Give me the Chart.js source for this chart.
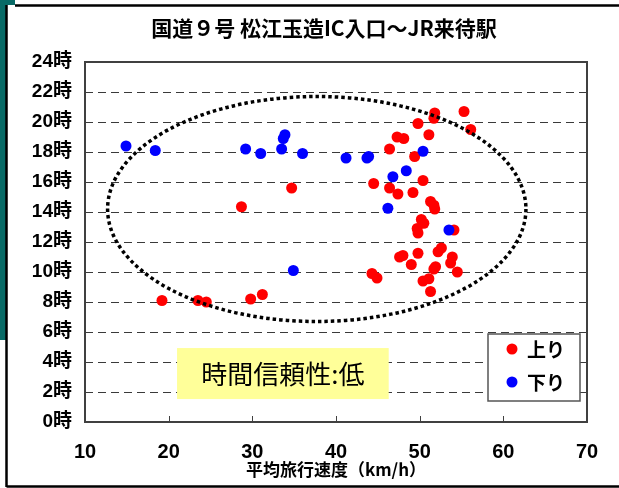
<!DOCTYPE html>
<html lang="ja">
<head>
<meta charset="utf-8">
<title>国道９号 松江玉造IC入口～JR来待駅</title>
<script src="https://cdn.jsdelivr.net/npm/chart.js@4.4.1/dist/chart.umd.min.js"></script>
<style>
    html, body { margin: 0; padding: 0; background: #fff; }
    #wrap { width: 619px; height: 488px; }
</style>
</head>
<body>
<div id="wrap"><canvas id="speedHourChart" width="619" height="488"></canvas></div>
<script>
// Data (speed km/h, hour of day)
const chartTitle = '国道９号 松江玉造IC入口～JR来待駅';
const xAxisTitle = '平均旅行速度（km/h）';
const seriesNames = ['上り', '下り'];
const noteText = '時間信頼性:低';

const upSpeed = [19.2, 23.5, 24.5, 29.8, 31.2, 28.7, 34.7, 44.3, 44.9, 47.6, 48.0, 49.0, 49.8,
    52.2, 52.6, 51.9, 51.7, 53.9, 53.7, 54.5, 50.4, 51.1, 51.3, 50.5, 50.2, 49.7, 49.8, 54.1,
    51.3, 51.7, 51.8, 44.5, 46.4, 47.4, 49.2, 50.4, 49.4, 46.4, 47.3, 48.1, 49.8, 51.1,
    51.8, 51.7, 55.3, 56.1];
const upHour = [8.1, 8.1, 8.0, 8.2, 8.5, 14.35, 15.6, 9.9, 9.6, 11.0, 11.1, 10.5, 11.25,
    11.35, 11.6, 10.35, 10.2, 11.0, 10.6, 10.0, 9.4, 9.55, 8.7, 13.25, 13.5, 12.9, 12.6, 12.8,
    14.7, 14.45, 14.2, 15.9, 15.6, 15.2, 15.3, 16.1, 17.7, 18.2, 19.0, 18.9, 19.9, 19.15,
    20.6, 20.25, 20.7, 19.5];

const downSpeed = [14.9, 18.4, 29.2, 31.0, 33.5, 33.7, 33.9, 36.0, 34.9, 41.2, 43.7, 43.9,
    50.4, 48.4, 46.8, 46.2, 53.5];
const downHour = [18.4, 18.1, 18.2, 17.9, 18.2, 18.9, 19.15, 17.9, 10.1, 17.6, 17.6, 17.7,
    18.05, 16.75, 16.35, 14.25, 12.8];

const speedTicks = [10, 20, 30, 40, 50, 60, 70];
const hourTicks = [0, 2, 4, 6, 8, 10, 12, 14, 16, 18, 20, 22, 24];

// dotted ellipse: centre (speed, hour) and radii (km/h, hours)
const ellipseCenter = [37.7, 14.2];
const ellipseRadius = [25, 7.5];

const seriesColors = ['#ff0000', '#0000ff'];
const jpFont = "'Liberation Sans', 'Noto Sans CJK JP', sans-serif";

function toPoints(xs, ys) {
    return xs.map((x, i) => ({ x: x, y: ys[i] }));
}

const decorPlugin = {
    id: 'decor',
    beforeDraw(chart) {
        const ctx = chart.ctx;
        const w = chart.width;
        ctx.save();
        ctx.fillStyle = '#fff';
        ctx.fillRect(0, 0, w, chart.height);
        // slide edge
        ctx.fillStyle = '#086a66';
        ctx.fillRect(0, 0, 6, 340);
        ctx.fillRect(0, 0, 15, 5);
        ctx.strokeStyle = '#000';
        ctx.lineWidth = 2.5;
        ctx.beginPath();
        ctx.moveTo(15, 5.5); ctx.lineTo(w, 5.5);
        ctx.moveTo(6.5, 5); ctx.lineTo(6.5, 487);
        ctx.moveTo(6.5, 486.5); ctx.lineTo(w, 486.5);
        ctx.stroke();

        ctx.fillStyle = '#000';
        ctx.font = "bold 21px 'Noto Sans CJK JP', sans-serif";
        ctx.textAlign = 'center';
        ctx.textBaseline = 'middle';
        ctx.fillText(chartTitle, 324, 28);
        ctx.restore();
    },
    beforeDatasetsDraw(chart) {
        // dashed hour gridlines
        const ctx = chart.ctx;
        const area = chart.chartArea;
        const ys = chart.scales.y;
        ctx.save();
        ctx.strokeStyle = '#3a3a3a';
        ctx.lineWidth = 1;
        ctx.setLineDash([8, 5]);
        ctx.beginPath();
        hourTicks.slice(1, -1).forEach((h) => {
            const py = Math.round(ys.getPixelForValue(h)) + 0.5;
            ctx.moveTo(area.left, py);
            ctx.lineTo(area.right, py);
        });
        ctx.stroke();
        ctx.restore();
    },
    afterDatasetsDraw(chart) {
        const ctx = chart.ctx;
        const area = chart.chartArea;
        const xs = chart.scales.x;
        const ys = chart.scales.y;
        ctx.save();

        // dotted ellipse
        const cx = xs.getPixelForValue(ellipseCenter[0]);
        const cy = ys.getPixelForValue(ellipseCenter[1]);
        const rx = Math.abs(xs.getPixelForValue(ellipseCenter[0] + ellipseRadius[0]) - cx);
        const ry = Math.abs(ys.getPixelForValue(ellipseCenter[1] + ellipseRadius[1]) - cy);
        ctx.strokeStyle = '#000';
        ctx.lineWidth = 3.5;
        ctx.setLineDash([3.5, 3]);
        ctx.beginPath();
        ctx.ellipse(cx, cy, rx, ry, 0, 0, Math.PI * 2);
        ctx.stroke();
        ctx.setLineDash([]);

        // plot frame
        ctx.strokeStyle = '#404040';
        ctx.lineWidth = 2;
        ctx.strokeRect(area.left, area.top, area.right - area.left, area.bottom - area.top);

        // inward tick marks on the x axis
        ctx.lineWidth = 1;
        ctx.beginPath();
        speedTicks.forEach((v) => {
            const px = Math.round(xs.getPixelForValue(v)) + 0.5;
            ctx.moveTo(px, area.bottom);
            ctx.lineTo(px, area.bottom - 6);
        });
        ctx.stroke();

        // note box
        const nx0 = xs.getPixelForValue(21.0);
        const nx1 = xs.getPixelForValue(46.3);
        const ny0 = ys.getPixelForValue(4.93);
        const ny1 = ys.getPixelForValue(1.53);
        ctx.fillStyle = '#ffff99';
        ctx.fillRect(nx0, ny0, nx1 - nx0, ny1 - ny0);
        ctx.fillStyle = '#000';
        ctx.font = "26px 'Noto Sans CJK JP', sans-serif";
        ctx.textAlign = 'center';
        ctx.textBaseline = 'middle';
        ctx.fillText(noteText, (nx0 + nx1) / 2, (ny0 + ny1) / 2 + 1);

        // legend
        const lx = area.right - 99;
        const ly = area.bottom - 88;
        ctx.fillStyle = '#fff';
        ctx.fillRect(lx, ly, 92, 67);
        ctx.strokeStyle = '#555';
        ctx.lineWidth = 1.5;
        ctx.strokeRect(lx, ly, 92, 67);
        ctx.font = "bold 19px 'Noto Sans CJK JP', sans-serif";
        ctx.textAlign = 'left';
        seriesNames.forEach((name, i) => {
            const rowY = ly + 15 + i * 33;
            ctx.fillStyle = seriesColors[i];
            ctx.beginPath();
            ctx.arc(lx + 24, rowY, 5.5, 0, Math.PI * 2);
            ctx.fill();
            ctx.fillStyle = '#000';
            ctx.fillText(name, lx + 39, rowY + 1);
        });
        ctx.restore();
    },
};

const ctx = document.getElementById('speedHourChart').getContext('2d');
new Chart(ctx, {
    type: 'scatter',
    data: {
        datasets: [
            {
                label: seriesNames[0],
                data: toPoints(upSpeed, upHour),
                backgroundColor: seriesColors[0],
                borderWidth: 0,
                pointRadius: 5.5,
                order: 1,
            },
            {
                label: seriesNames[1],
                data: toPoints(downSpeed, downHour),
                backgroundColor: seriesColors[1],
                borderWidth: 0,
                pointRadius: 5.5,
                order: 0,
            },
        ],
    },
    options: {
        responsive: false,
        animation: false,
        layout: { padding: { top: 62, right: 32, left: 0, bottom: 0 } },
        plugins: {
            legend: { display: false },
            title: { display: false },
            tooltip: { enabled: false },
        },
        scales: {
            x: {
                type: 'linear',
                min: 10,
                max: 70,
                afterBuildTicks: (scale) => { scale.ticks = speedTicks.map((v) => ({ value: v })); },
                afterFit: (scale) => { scale.height = 66; },
                grid: { display: false, drawTicks: false },
                border: { display: false },
                ticks: {
                    color: '#000',
                    padding: 18,
                    maxRotation: 0,
                    font: { family: jpFont, size: 20, weight: 'bold' },
                },
                title: {
                    display: true,
                    text: xAxisTitle,
                    color: '#000',
                    padding: { top: 0, bottom: 8 },
                    font: { family: "'Noto Sans CJK JP', sans-serif", size: 17, weight: 'bold' },
                },
            },
            y: {
                type: 'linear',
                min: 0,
                max: 24,
                afterBuildTicks: (scale) => { scale.ticks = hourTicks.map((v) => ({ value: v })); },
                afterFit: (scale) => { scale.width = 85; },
                grid: { display: false, drawTicks: false },
                border: { display: false },
                ticks: {
                    color: '#000',
                    padding: 13,
                    font: { family: jpFont, size: 19, weight: 'bold' },
                    callback: (v) => v + '時',
                },
            },
        },
    },
    plugins: [decorPlugin],
});
</script>
</body>
</html>
